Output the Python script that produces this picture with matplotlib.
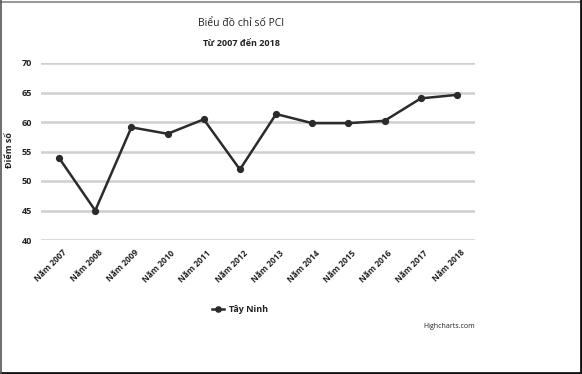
import matplotlib
matplotlib.use("Agg")
import matplotlib.pyplot as plt
from matplotlib.lines import Line2D

plt.rcParams['font.family'] = ['Open Sans', 'DejaVu Sans']

categories = ["Năm 2007", "Năm 2008", "Năm 2009", "Năm 2010", "Năm 2011", "Năm 2012",
              "Năm 2013", "Năm 2014", "Năm 2015", "Năm 2016", "Năm 2017", "Năm 2018"]
values = [53.9, 45.0, 59.1, 58.0, 60.45, 51.95, 61.35, 59.8, 59.8, 60.2, 64.0, 64.6]
yticks = [40, 45, 50, 55, 60, 65, 70]
series_name = "Tây Ninh"

W, H = 582, 374
fig = plt.figure(figsize=(W / 100, H / 100), dpi=100)
fig.patch.set_facecolor("white")

left, right, top, bottom = 41, 475, 63, 240
ax = fig.add_axes([left / W, 1 - bottom / H, (right - left) / W, (bottom - top) / H])
ax.set_facecolor("white")

x = list(range(len(categories)))
line, = ax.plot(x, values, color="#2b2b2b", lw=1.8, marker="o", ms=4.2,
                markerfacecolor="#2b2b2b", markeredgecolor="#2b2b2b",
                label=series_name, zorder=3, clip_on=False)

ax.set_xlim(-0.5, len(categories) - 0.5)
ax.set_ylim(40, 70)
ax.set_yticks(yticks)
ax.set_yticklabels([str(v) for v in yticks], fontsize=6.5, color="#222222", fontweight="bold")
ax.set_xticks(x)
ax.set_xticklabels(categories, rotation=45, ha="right", va="top", rotation_mode="anchor",
                   fontsize=6, color="#222222", fontweight="bold")
ax.tick_params(axis="y", length=0, pad=6.5)
ax.tick_params(axis="x", length=0, pad=6)
for lbl in ax.get_xticklabels():
    lbl.set_x(lbl.get_position()[0])
ax.yaxis.grid(True, color="#cfcfcf", lw=1.8)
ax.set_axisbelow(True)
for s in ax.spines.values():
    s.set_visible(False)

ax.set_ylabel("Điểm số", fontsize=6.5, color="#222222", fontweight="bold")
ax.yaxis.set_label_coords((14 - left) / (right - left), (bottom - 150) / (bottom - top))

# shift x tick labels slightly right so their ends sit under the ticks
import matplotlib.transforms as mtransforms
offset = mtransforms.ScaledTranslation(3 / 100, 0, fig.dpi_scale_trans)
for lbl in ax.get_xticklabels():
    lbl.set_transform(lbl.get_transform() + offset)

fig.text(241 / W, 1 - 23 / H, "Biểu đồ chỉ số PCI", ha="center", va="center",
         fontsize=7.5, color="#222222")
fig.text(241 / W, 1 - 43 / H, "Từ 2007 đến 2018", ha="center", va="center",
         fontsize=6.5, color="#222222", fontweight="bold")

leg = fig.legend(handles=[line], loc="center", bbox_to_anchor=(240 / W, 1 - 310 / H),
                 frameon=False, fontsize=6.5, handlelength=1.3, handletextpad=0.5,
                 markerscale=0.9)
for t in leg.get_texts():
    t.set_fontweight("bold")
    t.set_color("#222222")

fig.text(475 / W, 1 - 326 / H, "Highcharts.com", ha="right", va="center",
         fontsize=5, color="#222222")

# frame edges of the screenshot
fig.add_artist(Line2D([0, 1], [1 - 1.5 / H, 1 - 1.5 / H], color="#9a9a9a", lw=1.5,
                      transform=fig.transFigure))
fig.add_artist(Line2D([1 - 1.5 / W, 1 - 1.5 / W], [0, 1], color="#111111", lw=2,
                      transform=fig.transFigure))
fig.add_artist(Line2D([0, 1], [1.5 / H, 1.5 / H], color="#111111", lw=2,
                      transform=fig.transFigure))
fig.add_artist(Line2D([0.8 / W, 0.8 / W], [0, 1], color="#555555", lw=1.2,
                      transform=fig.transFigure))

fig.savefig("out.png", dpi=100)
